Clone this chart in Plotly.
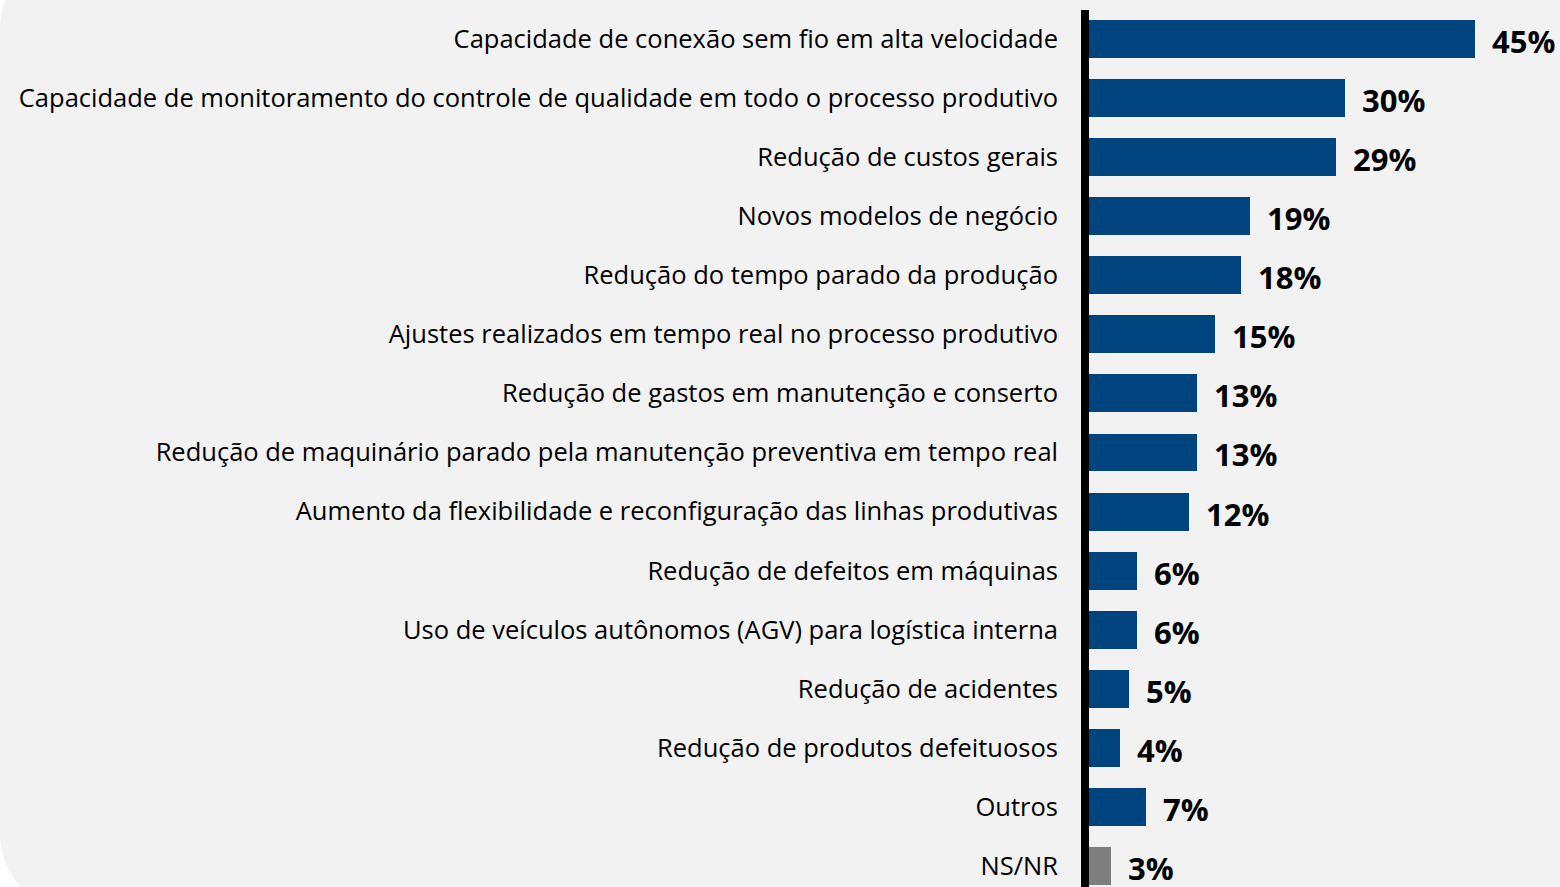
import plotly.graph_objects as go

categories = [
    "Capacidade de conexão sem fio em alta velocidade",
    "Capacidade de monitoramento do controle de qualidade em todo o processo produtivo",
    "Redução de custos gerais",
    "Novos modelos de negócio",
    "Redução do tempo parado da produção",
    "Ajustes realizados em tempo real no processo produtivo",
    "Redução de gastos em manutenção e conserto",
    "Redução de maquinário parado pela manutenção preventiva em tempo real",
    "Aumento da flexibilidade e reconfiguração das linhas produtivas",
    "Redução de defeitos em máquinas",
    "Uso de veículos autônomos (AGV) para logística interna",
    "Redução de acidentes",
    "Redução de produtos defeituosos",
    "Outros",
    "NS/NR",
]
values = [45.1, 29.9, 28.9, 18.8, 17.8, 14.7, 12.6, 12.6, 11.7, 5.6, 5.6, 4.7, 3.6, 6.7, 2.6]
labels = ["45%", "30%", "29%", "19%", "18%", "15%", "13%", "13%", "12%", "6%", "6%", "5%", "4%", "7%", "3%"]
colors = ["#00447F"] * 14 + ["#7F7F7F"]

W, H = 1560, 887
L, R, T, B = 1081, 0, 10, 0
PW, PH = W - L - R, H - T - B
SCALE = 8.55      # px per percent
ROW = 59.07       # px per category
x0 = -8 / SCALE
xr = [x0, x0 + PW / SCALE]
y_top = -(39 - T) / ROW
yr = [y_top + PH / ROW, y_top]

pos = list(range(len(categories)))

fig = go.Figure()
fig.add_trace(go.Bar(
    x=values, y=pos, orientation="h",
    marker=dict(color=colors, line=dict(width=0)),
    width=0.643, hoverinfo="skip",
))

for v, p, t in zip(values, pos, labels):
    fig.add_annotation(
        x=v, y=p, text=t, xref="x", yref="y", showarrow=False,
        xanchor="left", yanchor="middle", xshift=15, yshift=-2,
        font=dict(family="Open Sans", size=31, color="black", weight="bold"),
    )

def px(x):
    return (x - L) / PW

def py(y):
    return (H - B - y) / PH

Rr, k = 80, 44.2
top, bot, right = -50, 913, 1800
pts = [
    ("M", [(0, top + Rr)]),
    ("C", [(0, top + Rr - k), (Rr - k, top), (Rr, top)]),
    ("L", [(right, top)]),
    ("L", [(right, bot)]),
    ("L", [(Rr, bot)]),
    ("C", [(Rr - k, bot), (0, bot - Rr + k), (0, bot - Rr)]),
]
path = ""
for cmd, ps in pts:
    path += cmd + " " + " ".join(f"{px(a):.5f},{py(b):.5f}" for a, b in ps) + " "
path += "Z"

fig.add_shape(type="path", path=path, xref="paper", yref="paper",
              fillcolor="#F2F2F2", line=dict(width=0), layer="below")
fig.add_shape(type="line", xref="x", yref="paper", x0=-4 / SCALE, x1=-4 / SCALE,
              y0=0, y1=1, line=dict(color="black", width=8), layer="above")

fig.update_layout(
    width=W, height=H,
    margin=dict(l=L, r=R, t=T, b=B, pad=0),
    paper_bgcolor="white", plot_bgcolor="rgba(0,0,0,0)",
    showlegend=False, bargap=0,
    font=dict(family="Open Sans", size=25.5, color="black"),
)
fig.update_xaxes(range=xr, visible=False, showgrid=False, zeroline=False)
fig.update_yaxes(range=yr, tickmode="array", tickvals=pos, ticktext=categories,
                 showgrid=False, zeroline=False, showline=False, ticks="",
                 ticklabelstandoff=22,
                 tickfont=dict(family="Open Sans", size=25.5, color="black"))

fig.write_html("out.html", config={"displayModeBar": False},
               post_script="document.body.style.margin='0';document.body.style.overflow='hidden';")
